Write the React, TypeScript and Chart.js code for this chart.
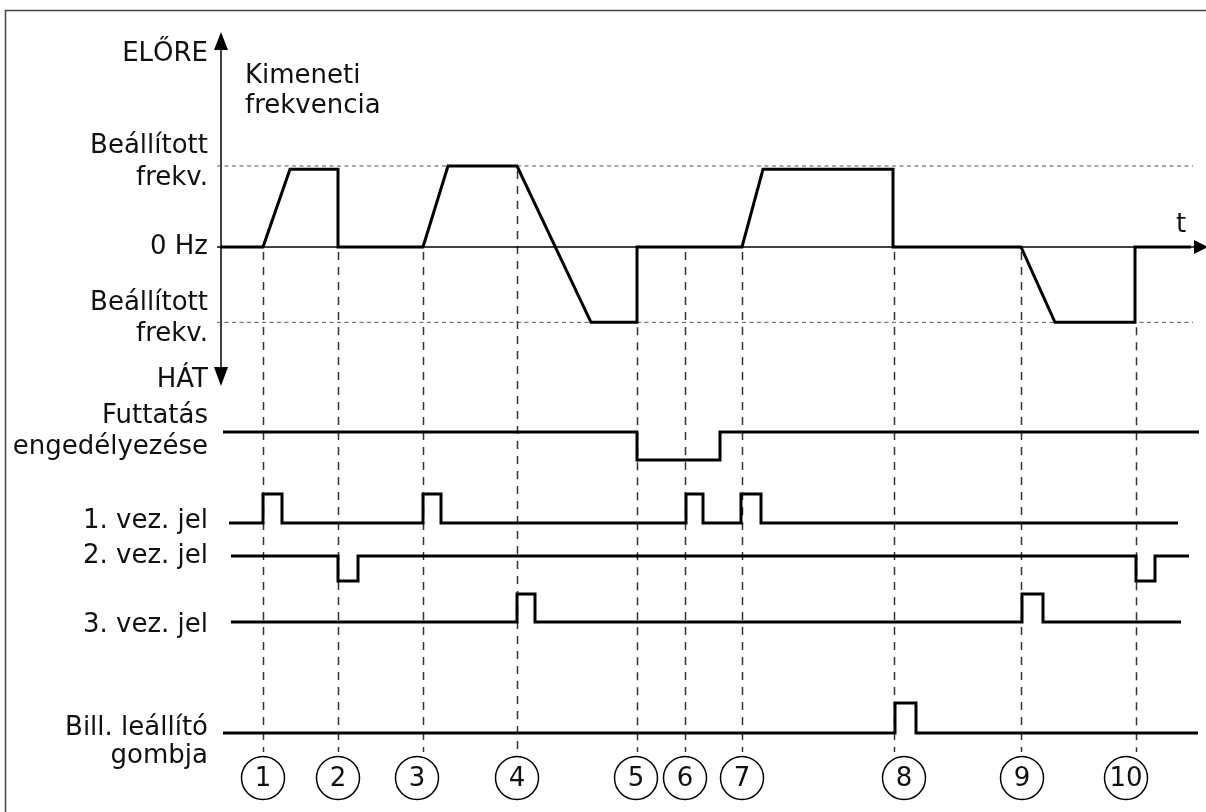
import React, { useEffect, useRef } from 'react';
import { Chart, registerables } from 'chart.js';

Chart.register(...registerables);

// ---------------- data (time units, signal levels) ----------------
const eventNumbers = ['1', '2', '3', '4', '5', '6', '7', '8', '9', '10'];
const eventTimes = [4.2, 11.7, 20.2, 29.6, 41.6, 46.4, 52.1, 67.3, 80.0, 91.5];
const eventLabelTimes = [4.2, 11.7, 19.6, 29.6, 41.5, 46.4, 52.1, 68.3, 80.1, 90.5];
const eventGuideFrom = [0, 0, 0, 1, -0.93, 0, 0, 0, 0, -0.93];

const SET_FWD = 1;
const SET_REV = -0.93;

const freqTimes = [0, 4.2, 6.9, 11.7, 11.7, 20.2, 22.7, 29.6, 37.0, 41.6, 41.6, 52.1, 54.2, 67.2, 67.2, 80.0, 83.4, 91.4, 91.4, 97.0];
const freqValues = [0, 0, 0.96, 0.96, 0, 0, 1, 1, -0.93, -0.93, 0, 0, 0.96, 0.96, 0, 0, -0.93, -0.93, 0, 0];

const runTimes = [0.2, 41.6, 41.6, 49.9, 49.9, 97.8];
const runValues = [1, 1, 0, 0, 1, 1];

const cmd1Times = [0.8, 4.2, 4.2, 6.1, 6.1, 20.2, 20.2, 22.0, 22.0, 46.5, 46.5, 48.2, 48.2, 52.0, 52.0, 54.0, 54.0, 95.7];
const cmd1Values = [0, 0, 1, 1, 0, 0, 1, 1, 0, 0, 1, 1, 0, 0, 1, 1, 0, 0];

const cmd2Times = [1.0, 11.7, 11.7, 13.7, 13.7, 91.5, 91.5, 93.4, 93.4, 96.8];
const cmd2Values = [1, 1, 0, 0, 1, 1, 0, 0, 1, 1];

const cmd3Times = [1.0, 29.6, 29.6, 31.4, 31.4, 80.1, 80.1, 82.2, 82.2, 96.0];
const cmd3Values = [0, 0, 1, 1, 0, 0, 1, 1, 0, 0];

const billTimes = [0.2, 67.4, 67.4, 69.5, 69.5, 97.7];
const billValues = [0, 0, 1, 1, 0, 0];

const setLineTimes = [-0.4, 97.2];

// ---------------- layout ----------------
const W = 1206;
const H = 812;
const X_MIN = -22.1;
const X_MAX = 98.5;
// [pixel of level 0, pixels per level unit]
const TRACKS: Record<string, [number, number]> = {
  yF: [247, 81],
  yRun: [460, 28],
  yC1: [523, 29],
  yC2: [581, 25],
  yC3: [622, 28],
  yB: [733, 30],
};
const GUIDE_BOTTOM = 752;
const CIRCLE_Y = 778;
const CIRCLE_R = 21.5;
const LABEL_RIGHT = 208;
const FONT = '26px "DejaVu Sans", Verdana, sans-serif';
const INK = '#111111';

const rightLabels: { text: string; y: number }[] = [
  { text: 'ELŐRE', y: 61 },
  { text: 'Beállított', y: 153 },
  { text: 'frekv.', y: 185 },
  { text: '0 Hz', y: 254 },
  { text: 'Beállított', y: 310 },
  { text: 'frekv.', y: 341 },
  { text: 'HÁT', y: 387 },
  { text: 'Futtatás', y: 423 },
  { text: 'engedélyezése', y: 454 },
  { text: '1. vez. jel', y: 528 },
  { text: '2. vez. jel', y: 563 },
  { text: '3. vez. jel', y: 632 },
  { text: 'Bill. leállító', y: 735 },
  { text: 'gombja', y: 763 },
];

function axisFor(id: string) {
  const [base, unit] = TRACKS[id];
  return { type: 'linear', display: false, min: -(H - base) / unit, max: base / unit };
}

function pts(xs: number[], ys: number[]) {
  return xs.map((x, i) => ({ x, y: ys[i] }));
}

function sig(label: string, xs: number[], ys: number[], axis: string, width = 3) {
  return {
    label,
    data: pts(xs, ys),
    yAxisID: axis,
    borderColor: '#000',
    borderWidth: width,
    pointRadius: 0,
    showLine: true,
    tension: 0,
    fill: false,
    borderJoinStyle: 'miter',
    borderCapStyle: 'butt',
  };
}

const decorPlugin = {
  id: 'decor',
  beforeDatasetsDraw(chart: any) {
    const ctx = chart.ctx as CanvasRenderingContext2D;
    const xs = chart.scales.x;
    const yF = chart.scales.yF;
    ctx.save();
    // frame
    ctx.strokeStyle = '#444';
    ctx.lineWidth = 1.5;
    ctx.strokeRect(5.5, 10.5, W + 20, H + 20);

    // guides
    ctx.strokeStyle = '#333';
    ctx.lineWidth = 1.5;
    ctx.setLineDash([8, 7]);
    eventTimes.forEach((t, i) => {
      const x = Math.round(xs.getPixelForValue(t)) + 0.5;
      const y0 = yF.getPixelForValue(eventGuideFrom[i]) + 5;
      ctx.beginPath();
      ctx.moveTo(x, y0);
      ctx.lineTo(x, GUIDE_BOTTOM);
      ctx.stroke();
    });
    ctx.setLineDash([]);

    // axes
    const x0 = xs.getPixelForValue(0);
    const yZero = yF.getPixelForValue(0);
    ctx.strokeStyle = '#000';
    ctx.fillStyle = '#000';
    ctx.lineWidth = 1.5;
    ctx.beginPath();
    ctx.moveTo(x0, 46);
    ctx.lineTo(x0, 370);
    ctx.stroke();
    ctx.beginPath();
    ctx.moveTo(xs.getPixelForValue(-0.4), yZero);
    ctx.lineTo(1197, yZero);
    ctx.stroke();
    // arrow heads
    ctx.beginPath();
    ctx.moveTo(x0, 32);
    ctx.lineTo(x0 - 7, 50);
    ctx.lineTo(x0 + 7, 50);
    ctx.closePath();
    ctx.fill();
    ctx.beginPath();
    ctx.moveTo(x0, 386);
    ctx.lineTo(x0 - 7, 367);
    ctx.lineTo(x0 + 7, 367);
    ctx.closePath();
    ctx.fill();
    ctx.beginPath();
    ctx.moveTo(1208, yZero);
    ctx.lineTo(1194, yZero - 7);
    ctx.lineTo(1194, yZero + 7);
    ctx.closePath();
    ctx.fill();
    ctx.restore();
  },
  afterDatasetsDraw(chart: any) {
    const ctx = chart.ctx as CanvasRenderingContext2D;
    const xs = chart.scales.x;
    ctx.save();
    ctx.font = FONT;
    ctx.fillStyle = INK;
    ctx.textBaseline = 'alphabetic';
    ctx.textAlign = 'right';
    rightLabels.forEach((l) => ctx.fillText(l.text, LABEL_RIGHT, l.y));
    ctx.textAlign = 'left';
    ctx.fillText('Kimeneti', 245, 83);
    ctx.fillText('frekvencia', 245, 113);
    ctx.fillText('t', 1176, 232);

    // event circles
    ctx.strokeStyle = '#000';
    ctx.lineWidth = 1.5;
    ctx.textAlign = 'center';
    ctx.textBaseline = 'middle';
    eventLabelTimes.forEach((t, i) => {
      const cx = xs.getPixelForValue(t);
      ctx.beginPath();
      ctx.arc(cx, CIRCLE_Y, CIRCLE_R, 0, Math.PI * 2);
      ctx.stroke();
      ctx.fillText(eventNumbers[i], cx, CIRCLE_Y + 1);
    });
    ctx.restore();
  },
};

export default function App() {
  const ref = useRef<HTMLCanvasElement>(null);
  useEffect(() => {
    if (!ref.current) return;
    const setStyle = { borderColor: '#555', borderWidth: 1, borderDash: [4, 3.5] };
    const chart = new Chart(ref.current, {
      type: 'scatter',
      data: {
        datasets: [
          sig('Kimeneti frekvencia', freqTimes, freqValues, 'yF'),
          sig('Futtatás engedélyezése', runTimes, runValues, 'yRun'),
          sig('1. vez. jel', cmd1Times, cmd1Values, 'yC1'),
          sig('2. vez. jel', cmd2Times, cmd2Values, 'yC2'),
          sig('3. vez. jel', cmd3Times, cmd3Values, 'yC3'),
          sig('Bill. leállító gombja', billTimes, billValues, 'yB'),
          { ...sig('Beállított frekv. (előre)', setLineTimes, [SET_FWD, SET_FWD], 'yF', 1), ...setStyle },
          { ...sig('Beállított frekv. (hát)', setLineTimes, [SET_REV, SET_REV], 'yF', 1), ...setStyle },
        ] as any,
      },
      options: {
        responsive: false,
        animation: false,
        events: [],
        layout: { padding: 0 },
        plugins: { legend: { display: false }, tooltip: { enabled: false }, title: { display: false } },
        scales: {
          x: { type: 'linear', display: false, min: X_MIN, max: X_MAX },
          yF: axisFor('yF'),
          yRun: axisFor('yRun'),
          yC1: axisFor('yC1'),
          yC2: axisFor('yC2'),
          yC3: axisFor('yC3'),
          yB: axisFor('yB'),
        } as any,
      },
      plugins: [decorPlugin],
    });
    return () => chart.destroy();
  }, []);
  return (
    <div style={{ position: 'fixed', left: 0, top: 0, width: W, height: H, background: '#fff' }}>
      <canvas ref={ref} width={W} height={H} style={{ display: 'block' }} />
    </div>
  );
}
